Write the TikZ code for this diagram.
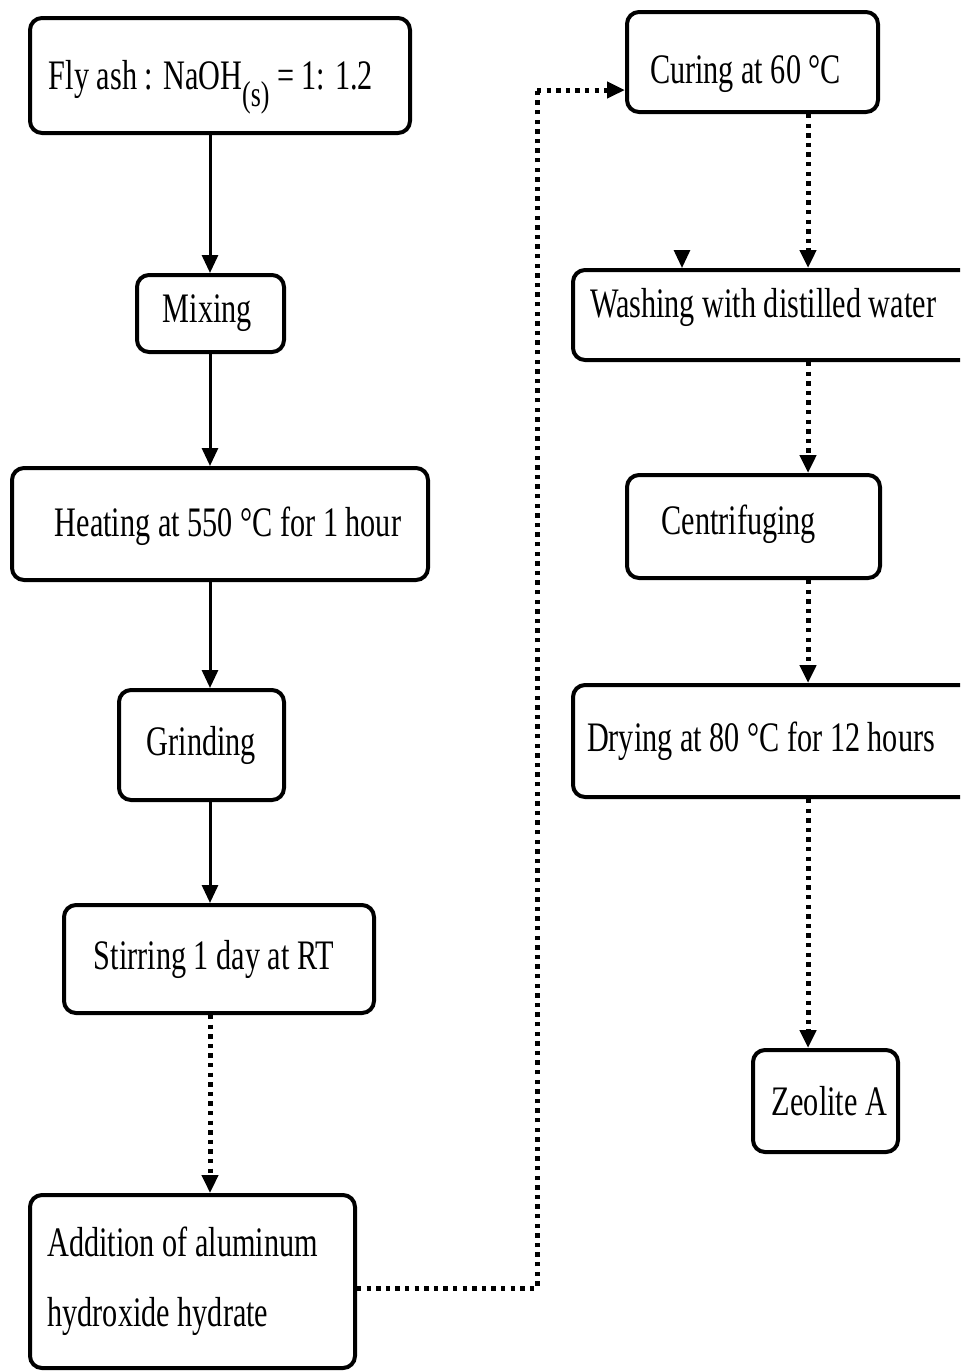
\documentclass[tikz,border=0pt]{standalone}
\usepackage{fontspec}
\setmainfont[FakeStretch=0.72]{Liberation Serif}
\usetikzlibrary{arrows.meta}
\newcommand{\lowered}[2]{\raisebox{#1}[\height][\depth]{#2}}
\begin{document}
\begin{tikzpicture}[x=0.5pt,y=-0.5pt,
  box/.style={draw, line width=2pt, rounded corners=6pt, inner sep=0pt,
    font=\fontsize{21}{25}\selectfont, anchor=center},
  solidarr/.style={line width=1.5pt, -{Triangle[width=8pt,length=9pt]}},
  dotarr/.style={line width=2.5pt, dash pattern=on 2.2pt off 2.6pt, -{Triangle[width=8pt,length=9pt]}},
  dotline/.style={line width=2.5pt, dash pattern=on 2.2pt off 2.6pt}]
\useasboundingbox (0,0) rectangle (960,1371);
\begin{scope}
\clip (0,0) rectangle (960,1371);
% left column
\node[box, minimum width=190pt, minimum height=57.5pt] (fly) at (220,75.5)
  {\lowered{-2pt}{Fly ash : NaOH\raisebox{-0.4em}[0pt][0pt]{\fontsize{18}{18}\selectfont(s)} = 1: 1.2}\kern9pt};
\node[box, minimum width=73.5pt, minimum height=38.5pt] (mix) at (210.5,313.5) {Mixing\kern3pt};
\node[box, minimum width=208pt, minimum height=56pt] (heat) at (220,524) {\kern8pt\lowered{-1pt}{Heating at 550 °C for 1 hour}};
\node[box, minimum width=82.5pt, minimum height=55pt] (grind) at (201.5,745) {Grinding};
\node[box, minimum width=155pt, minimum height=54pt] (stir) at (219,959) {Stirring 1 day at RT\kern5pt};
\node[box, minimum width=162.5pt, minimum height=86.5pt] (add) at (192.5,1281.5)
  {\begin{tabular}{@{}l@{}}\makebox[145pt][l]{Addition of aluminum}\\[10pt]\makebox[145pt][l]{hydroxide hydrate}\end{tabular}};
% right column
\node[box, minimum width=125.5pt, minimum height=50pt] (cur) at (752.5,62) {\lowered{-6pt}{Curing at 60 °C}\kern7pt};
\node[box, minimum width=216pt, minimum height=45pt] (wash) at (789,315)
  {\lowered{4pt}{\makebox[199pt][l]{Washing with distilled water}}};
\node[box, minimum width=126.5pt, minimum height=51.5pt] (cen) at (753.5,526.5) {\lowered{1pt}{\makebox[110pt][l]{\kern9pt Centrifuging}}};
\node[box, minimum width=216pt, minimum height=56pt] (dry) at (789,741)
  {\makebox[202pt][l]{Drying at 80 °C for 12 hours}};
\node[box, minimum width=72.5pt, minimum height=51pt] (zeo) at (825.5,1101) {\kern4pt Zeolite A};
\end{scope}
% connectors
\draw[solidarr] (fly.south -| 210,0) -- (mix.north -| 210,0);
\draw[solidarr] (mix.south -| 210,0) -- (heat.north -| 210,0);
\draw[solidarr] (heat.south -| 210,0) -- (grind.north -| 210,0);
\draw[solidarr] (grind.south -| 210,0) -- (stir.north -| 210,0);
\draw[dotarr] (stir.south -| 210,0) -- (add.north -| 210,0);
\coordinate (b1) at (537,1288);
\coordinate (b2) at (537,90);
\draw[dotline] (add.east |- b1) -- (b1) -- (b2);
\draw[dotarr] (b2) -- (cur.west |- b2);
\draw[dotarr] (cur.south -| 808,0) -- (wash.north -| 808,0);
\coordinate (stray) at (682,258);
\draw[line width=1.5pt, -{Triangle[width=8pt,length=9pt]}] (stray) -- (wash.north -| stray);
\draw[dotarr] (wash.south -| 808,0) -- (cen.north -| 808,0);
\draw[dotarr] (cen.south -| 808,0) -- (dry.north -| 808,0);
\draw[dotarr] (dry.south -| 808,0) -- (zeo.north -| 808,0);
\end{tikzpicture}
\end{document}
